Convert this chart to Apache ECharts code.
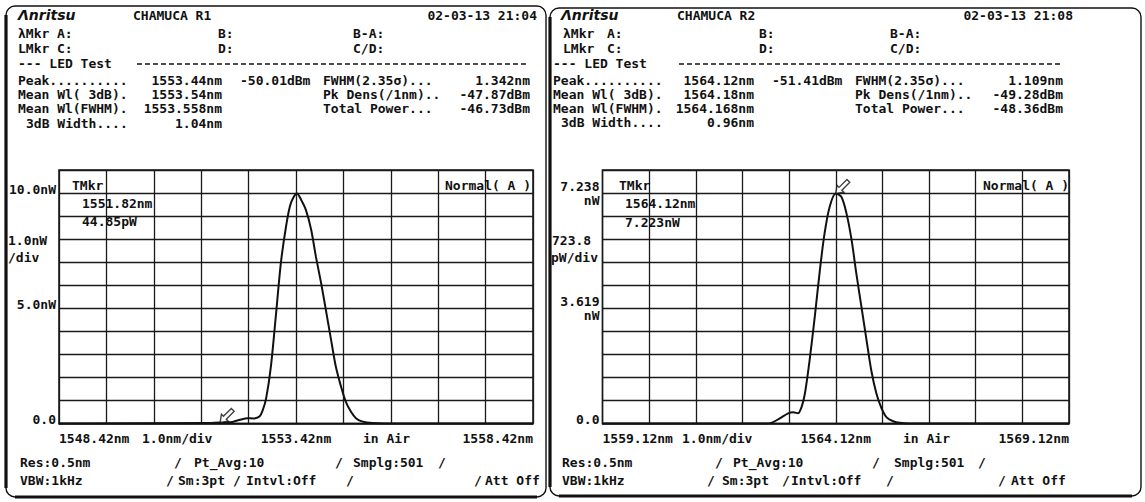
<!DOCTYPE html>
<html>
<head>
<meta charset="utf-8">
<script src="https://cdn.jsdelivr.net/npm/echarts@6/dist/echarts.min.js"></script>
<style>
  html, body { margin: 0; padding: 0; background: #fff; }
  #chart { width: 1145px; height: 502px; }
</style>
</head>
<body>
<div id="chart"></div>
<script>
// ---- Spectrum R1 (wavelength in nm, power in nW) ----
const r1Start = 1548.42;
const r1Wavelength = [1548.42, 1551.50, 1551.82, 1552.00, 1552.10, 1552.22, 1552.40, 1552.52, 1552.65, 1552.72, 1552.79,
  1552.89, 1553.00, 1553.10, 1553.21, 1553.31, 1553.44, 1553.53, 1553.63, 1553.74, 1553.84, 1553.95,
  1554.05, 1554.16, 1554.26, 1554.37, 1554.47, 1554.58, 1554.69, 1554.83, 1555.04, 1555.30, 1558.42];
const r1Power = [0.0, 0.02, 0.04485, 0.05, 0.08, 0.15, 0.23, 0.22, 0.30, 0.59, 1.09,
  2.47, 4.78, 6.95, 8.55, 9.55, 9.977, 9.70, 9.26, 8.41, 7.24, 6.09,
  4.93, 3.63, 2.47, 1.60, 0.95, 0.51, 0.22, 0.08, 0.02, 0.0, 0.0];
const r1MarkerWl = 1551.82;
const r1MarkerPower = 0.04485; // nW
const r1YTicks = [0, 5, 10];
const r1YLabels = ['0.0', '5.0nW', '10.0nW'];

// ---- Spectrum R2 ----
const r2Start = 1559.12;
const r2Wavelength = [1559.12, 1562.60, 1562.74, 1562.92, 1563.10, 1563.21, 1563.31, 1563.39, 1563.46, 1563.56,
  1563.67, 1563.78, 1563.88, 1563.99, 1564.12, 1564.24, 1564.35, 1564.46, 1564.56, 1564.67,
  1564.78, 1564.88, 1564.99, 1565.10, 1565.21, 1565.35, 1565.49, 1565.70, 1569.12];
const r2Power = [0.0, 0.0, 0.02, 0.16, 0.32, 0.35, 0.32, 0.53, 0.95, 1.99,
  3.35, 4.82, 5.97, 6.81, 7.223, 7.12, 6.60, 5.76, 4.72, 3.67,
  2.62, 1.68, 0.95, 0.48, 0.19, 0.07, 0.02, 0.0, 0.0];
const r2MarkerWl = 1564.12;
const r2MarkerPower = 7.223; // nW
const r2Div = 0.7238; // nW per division
const r2YTicks = [0, 5, 10]; // in divisions
const r2YLabels = ['0.0', '3.619\nnW', '7.238\nnW'];

const spanNm = 10; // 1.0 nm/div, 10 divisions

const MONO = '"DejaVu Sans Mono", "Liberation Mono", monospace';
const FONT = 'bold 13px ' + MONO;
const INK = '#111';
const GRID_INK = '#1a1a1a';

const chart = echarts.init(document.getElementById('chart'), null, { renderer: 'svg' });

function toPairs(wl, p, start) {
  return wl.map((w, i) => [w - start, p[i]]);
}

function xAxisFor(gridIndex, start) {
  return {
    type: 'value', gridIndex, min: 0, max: spanNm, interval: 1,
    axisLine: { show: true, lineStyle: { color: INK, width: 1.6 } },
    axisTick: { show: false },
    splitLine: { show: true, lineStyle: { color: GRID_INK, width: 1.3 } },
    axisLabel: {
      color: INK, fontFamily: MONO, fontSize: 13, fontWeight: 'bold', margin: 8,
      showMinLabel: true, showMaxLabel: true,
      alignMinLabel: 'left', alignMaxLabel: 'right',
      formatter: v => {
        const k = Math.round(v);
        if (Math.abs(v - k) > 1e-6) return '';
        if (k === 0 || k === 5 || k === 10) return (start + k).toFixed(2) + 'nm';
        return '';
      }
    }
  };
}

function yAxisFor(gridIndex, div, ticks, labels) {
  return {
    type: 'value', gridIndex, min: 0, max: 11 * div, interval: div,
    axisLine: { show: false },
    axisTick: { show: false },
    splitLine: { show: true, lineStyle: { color: GRID_INK, width: 1.3 } },
    axisLabel: {
      color: INK, fontFamily: MONO, fontSize: 13, fontWeight: 'bold', margin: 3,
      lineHeight: 14,
      showMinLabel: true, showMaxLabel: true,
      formatter: v => {
        const k = Math.round(v / div);
        const i = ticks.indexOf(k);
        if (i < 0) return '';
        const s = labels[i];
        return s.indexOf('\n') >= 0 ? s.split('\n').map(p => '{m|' + p + '}').join('\n') : '{s|' + s + '}';
      },
      rich: {
        s: { fontFamily: MONO, fontSize: 13, fontWeight: 'bold', color: INK, padding: [0, 0, 8, 0] },
        m: { fontFamily: MONO, fontSize: 13, fontWeight: 'bold', color: INK, lineHeight: 14 }
      }
    }
  };
}

// Hollow arrow pointing down-left; its tip sits at the bottom-left of the box
const ARROW = 'path://M0 62.9 L5.66 26.1 L14.85 35.3 L50.2 0 L62.9 12.7 L27.58 48 L36.77 57.2 Z';
function markerSeries(idx, wl, p, start) {
  return {
    type: 'scatter', xAxisIndex: idx, yAxisIndex: idx, z: 5,
    data: [[wl - start, p]],
    symbol: ARROW, symbolSize: 14, symbolOffset: [7, -7],
    itemStyle: { color: '#fff', borderColor: INK, borderWidth: 1.4 },
    silent: true
  };
}

function txt(x, y, text, align, extra) {
  return Object.assign({
    type: 'text', silent: true, z: 10,
    style: {
      x, y, text, font: FONT, fill: INK,
      textAlign: align || 'left', textVerticalAlign: 'middle',
      align: align || 'left', verticalAlign: 'middle'
    }
  }, extra || {});
}

function hline(x1, x2, y, w, dash) {
  return {
    type: 'line', silent: true, z: 10,
    shape: { x1, y1: y, x2, y2: y },
    style: { stroke: INK, lineWidth: w, lineDash: dash || null }
  };
}
function vline(x, y1, y2, w) {
  return {
    type: 'line', silent: true, z: 10,
    shape: { x1: x, y1, x2: x, y2 },
    style: { stroke: INK, lineWidth: w }
  };
}
function panel(x, y, w, h) {
  return [
    { type: 'rect', silent: true, z: 9, shape: { x, y, width: w, height: h, r: 9 },
      style: { fill: 'none', stroke: INK, lineWidth: 1.4 } },
    vline(x, y + 9, y + h - 9, 3.2),
    hline(x + 9, x + w - 9, y + h, 3.2)
  ];
}

function logo(x, y) {
  const t = txt(x, y, 'Λnritsu', 'left');
  t.style.font = 'italic bold 14px "DejaVu Sans", sans-serif';
  return t;
}

const graphics = [].concat(
  panel(6, 6, 540, 491),
  panel(550, 8, 591, 488),
  [
    // ---- R1 header ----
    logo(18, 15),
    txt(133, 15, 'CHAMUCA R1'),
    txt(537, 15, '02-03-13 21:04', 'right'),
    txt(18, 33, 'λMkr'), txt(57, 33, 'A:'), txt(218, 33, 'B:'), txt(353, 33, 'B-A:'),
    txt(18, 48, 'LMkr'), txt(57, 48, 'C:'), txt(218, 48, 'D:'), txt(353, 48, 'C/D:'),
    txt(18, 63, '--- LED Test'),
    hline(137, 528, 64, 1.5, [5, 3]),
    txt(18, 80, 'Peak..........'), txt(222, 80, '1553.44nm', 'right'), txt(240, 80, '-50.01dBm'),
    txt(323, 80, 'FWHM(2.35σ)...'), txt(530, 80, '1.342nm', 'right'),
    txt(18, 94, 'Mean Wl( 3dB).'), txt(222, 94, '1553.54nm', 'right'),
    txt(323, 94, 'Pk Dens(/1nm)..'), txt(530, 94, '-47.87dBm', 'right'),
    txt(18, 108, 'Mean Wl(FWHM).'), txt(222, 108, '1553.558nm', 'right'),
    txt(323, 108, 'Total Power...'), txt(530, 108, '-46.73dBm', 'right'),
    txt(26, 123, '3dB Width....'), txt(222, 123, '1.04nm', 'right'),
    // ---- R1 plot annotations ----
    txt(8, 240, '1.0nW'), txt(8, 257, '/div'),
    txt(72, 185, 'TMkr'),
    txt(82, 203, r1MarkerWl.toFixed(2) + 'nm'),
    txt(82, 221, (r1MarkerPower * 1000).toFixed(2) + 'pW'),
    txt(445, 185, 'Normal( A )'),
    txt(142, 438, '1.0nm/div'), txt(363, 438, 'in Air'),
    // ---- R1 footer ----
    txt(20, 462, 'Res:0.5nm'), txt(174, 462, '/'), txt(194, 462, 'Pt_Avg:10'),
    txt(335, 462, '/'), txt(353, 462, 'Smplg:501'), txt(438, 462, '/'),
    txt(20, 480, 'VBW:1kHz'), txt(166, 480, '/'), txt(178, 480, 'Sm:3pt'), txt(233, 480, '/'),
    txt(246, 480, 'Intvl:Off'), txt(346, 480, '/'), txt(474, 480, '/'), txt(485, 480, 'Att Off'),

    // ---- R2 header ----
    logo(561, 15),
    txt(677, 15, 'CHAMUCA R2'),
    txt(1073, 15, '02-03-13 21:08', 'right'),
    txt(563, 33, 'λMkr'), txt(607, 33, 'A:'), txt(759, 33, 'B:'), txt(890, 33, 'B-A:'),
    txt(563, 48, 'LMkr'), txt(607, 48, 'C:'), txt(759, 48, 'D:'), txt(890, 48, 'C/D:'),
    txt(553, 63, '--- LED Test'),
    hline(679, 1063, 64, 1.5, [5, 3]),
    txt(553, 80, 'Peak..........'), txt(754, 80, '1564.12nm', 'right'), txt(772, 80, '-51.41dBm'),
    txt(855, 80, 'FWHM(2.35σ)...'), txt(1063, 80, '1.109nm', 'right'),
    txt(553, 94, 'Mean Wl( 3dB).'), txt(754, 94, '1564.18nm', 'right'),
    txt(855, 94, 'Pk Dens(/1nm)..'), txt(1063, 94, '-49.28dBm', 'right'),
    txt(553, 108, 'Mean Wl(FWHM).'), txt(754, 108, '1564.168nm', 'right'),
    txt(855, 108, 'Total Power...'), txt(1063, 108, '-48.36dBm', 'right'),
    txt(561, 122, '3dB Width....'), txt(754, 122, '0.96nm', 'right'),
    // ---- R2 plot annotations ----
    txt(552, 240, '723.8'), txt(551, 257, 'pW/div'),
    txt(619, 185, 'TMkr'),
    txt(625, 203, r2MarkerWl.toFixed(2) + 'nm'),
    txt(625, 222, r2MarkerPower.toFixed(3) + 'nW'),
    txt(983, 185, 'Normal( A )'),
    txt(682, 438, '1.0nm/div'), txt(903, 438, 'in Air'),
    // ---- R2 footer ----
    txt(562, 462, 'Res:0.5nm'), txt(715, 462, '/'), txt(733, 462, 'Pt_Avg:10'),
    txt(872, 462, '/'), txt(894, 462, 'Smplg:501'), txt(978, 462, '/'),
    txt(562, 480, 'VBW:1kHz'), txt(707, 480, '/'), txt(722, 480, 'Sm:3pt'), txt(782, 480, '/'),
    txt(791, 480, 'Intvl:Off'), txt(886, 480, '/'), txt(998, 480, '/'), txt(1011, 480, 'Att Off')
  ]
);

const option = {
  backgroundColor: '#fff',
  animation: false,
  grid: [
    { left: 59, top: 170, width: 474, height: 253.5, show: true, borderColor: INK, borderWidth: 1.5 },
    { left: 602.5, top: 170, width: 466.5, height: 253.5, show: true, borderColor: INK, borderWidth: 1.5 }
  ],
  xAxis: [xAxisFor(0, r1Start), xAxisFor(1, r2Start)],
  yAxis: [yAxisFor(0, 1, r1YTicks, r1YLabels), yAxisFor(1, r2Div, r2YTicks, r2YLabels)],
  series: [
    {
      type: 'line', xAxisIndex: 0, yAxisIndex: 0, z: 3,
      data: toPairs(r1Wavelength, r1Power, r1Start),
      showSymbol: false, smooth: 0.3, silent: true,
      lineStyle: { color: INK, width: 2 }
    },
    {
      type: 'line', xAxisIndex: 1, yAxisIndex: 1, z: 3,
      data: toPairs(r2Wavelength, r2Power, r2Start),
      showSymbol: false, smooth: 0.3, silent: true,
      lineStyle: { color: INK, width: 2 }
    },
    markerSeries(0, r1MarkerWl, r1MarkerPower, r1Start),
    markerSeries(1, r2MarkerWl, r2MarkerPower, r2Start)
  ],
  graphic: { elements: graphics }
};

chart.setOption(option);
</script>
</body>
</html>
